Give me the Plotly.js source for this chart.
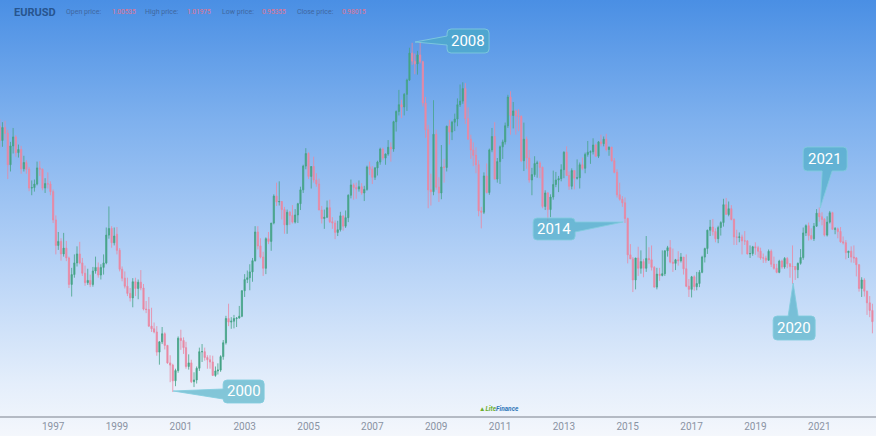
<!DOCTYPE html>
<html>
<head>
<meta charset="utf-8">
<script src="https://cdn.plot.ly/plotly-3.0.1.min.js"></script>
<style>
  html, body { margin:0; padding:0; }
  body { width:876px; height:436px; overflow:hidden; }
  #chart { width:876px; height:436px;
    background: linear-gradient(to bottom, #4a8fe4 0%, #7fb1ee 28%, #b2d0f6 58%, #e4eefb 88%, #f4f7fc 100%); }
</style>
</head>
<body>
<div id="chart"></div>
<script>
// Monthly EURUSD candles, May 1995 .. Sep 2022 (pre-1999 synthetic)
const startYear = 1995, startMonth = 5;
const open = [
  1.416,1.384,1.413,1.400,1.330,1.372,1.392,1.357,
  1.364,1.321,1.335,1.320,1.278,1.279,1.287,1.323,1.320,1.278,1.288,1.287,
  1.270,1.207,1.150,1.159,1.131,1.144,1.122,1.063,1.085,1.111,1.131,1.111,
  1.088,1.067,1.072,1.063,1.093,1.101,1.084,1.101,1.111,1.173,1.188,1.156,
  1.175,1.139,1.097,1.077,1.059,1.043,1.033,1.069,1.054,1.068,1.055,1.008,
  1.007,0.970,0.964,0.957,0.912,0.935,0.953,0.927,0.888,0.883,0.848,0.871,
  0.943,0.938,0.922,0.880,0.888,0.846,0.850,0.876,0.913,0.913,0.900,0.895,
  0.890,0.860,0.870,0.872,0.902,0.933,0.987,0.979,0.981,0.987,0.988,0.992,
  1.049,1.074,1.078,1.091,1.116,1.180,1.149,1.124,1.099,1.165,1.159,1.200,
  1.260,1.247,1.248,1.230,1.196,1.224,1.217,1.202,1.218,1.243,1.274,1.327,
  1.355,1.304,1.326,1.296,1.287,1.229,1.210,1.213,1.234,1.203,1.200,1.179,
  1.185,1.216,1.193,1.212,1.262,1.285,1.279,1.276,1.281,1.267,1.275,1.325,
  1.320,1.302,1.323,1.336,1.365,1.345,1.354,1.369,1.365,1.426,1.449,1.464,
  1.459,1.487,1.519,1.579,1.561,1.555,1.575,1.560,1.468,1.408,1.274,1.270,
  1.398,1.280,1.267,1.325,1.324,1.416,1.403,1.425,1.432,1.464,1.472,1.500,
  1.433,1.387,1.363,1.351,1.330,1.227,1.224,1.305,1.268,1.363,1.393,1.298,
  1.337,1.370,1.381,1.417,1.481,1.440,1.450,1.439,1.438,1.339,1.387,1.345,
  1.296,1.308,1.333,1.334,1.324,1.237,1.267,1.230,1.258,1.286,1.296,1.299,
  1.319,1.358,1.306,1.282,1.317,1.300,1.301,1.330,1.322,1.353,1.358,1.359,
  1.374,1.349,1.381,1.377,1.387,1.364,1.369,1.339,1.313,1.263,1.253,1.245,
  1.210,1.129,1.120,1.073,1.122,1.099,1.114,1.099,1.121,1.118,1.101,1.057,
  1.086,1.083,1.087,1.138,1.145,1.113,1.110,1.118,1.116,1.124,1.098,1.059,
  1.052,1.080,1.058,1.065,1.090,1.124,1.143,1.184,1.191,1.181,1.165,1.190,
  1.201,1.241,1.219,1.232,1.208,1.169,1.168,1.169,1.160,1.160,1.131,1.132,
  1.147,1.145,1.137,1.122,1.122,1.117,1.137,1.108,1.099,1.090,1.115,1.102,
  1.121,1.109,1.103,1.103,1.096,1.110,1.123,1.178,1.194,1.172,1.165,1.193,
  1.222,1.214,1.208,1.173,1.202,1.223,1.186,1.187,1.181,1.158,1.156,1.134,
  1.137,1.124,1.122,1.107,1.054,1.073,1.048,1.022,1.005
];
const high = [
  1.432,1.425,1.428,1.408,1.381,1.412,1.396,1.375,
  1.372,1.350,1.340,1.325,1.295,1.297,1.337,1.338,1.322,1.300,1.313,1.293,
  1.275,1.217,1.180,1.166,1.178,1.160,1.125,1.100,1.130,1.148,1.158,1.122,
  1.105,1.098,1.085,1.102,1.125,1.112,1.108,1.130,1.190,1.237,1.193,1.190,
  1.191,1.144,1.103,1.092,1.078,1.055,1.077,1.078,1.074,1.095,1.064,1.026,
  1.035,1.011,0.978,0.970,0.936,0.968,0.956,0.928,0.905,0.886,0.875,0.947,
  0.962,0.945,0.935,0.907,0.895,0.867,0.880,0.922,0.930,0.922,0.905,0.905,
  0.904,0.880,0.887,0.905,0.939,0.993,1.020,0.990,0.995,0.990,1.015,1.050,
  1.086,1.094,1.108,1.122,1.193,1.193,1.166,1.136,1.168,1.180,1.200,1.264,
  1.290,1.293,1.249,1.236,1.230,1.227,1.240,1.231,1.245,1.281,1.330,1.367,
  1.358,1.327,1.348,1.311,1.299,1.238,1.230,1.250,1.252,1.213,1.206,1.205,
  1.225,1.216,1.228,1.264,1.297,1.289,1.290,1.295,1.289,1.283,1.328,1.337,
  1.327,1.325,1.339,1.368,1.368,1.355,1.385,1.380,1.428,1.451,1.497,1.475,
  1.490,1.522,1.591,1.602,1.578,1.584,1.604,1.562,1.481,1.419,1.310,1.474,
  1.408,1.302,1.374,1.343,1.417,1.430,1.428,1.444,1.478,1.509,1.514,1.512,
  1.458,1.397,1.380,1.369,1.340,1.236,1.313,1.333,1.366,1.412,1.425,1.345,
  1.373,1.386,1.424,1.486,1.494,1.470,1.453,1.454,1.440,1.424,1.393,1.363,
  1.323,1.349,1.339,1.338,1.326,1.273,1.269,1.264,1.317,1.314,1.305,1.331,
  1.360,1.371,1.315,1.322,1.318,1.342,1.335,1.346,1.357,1.383,1.362,1.389,
  1.377,1.383,1.397,1.393,1.399,1.371,1.370,1.345,1.320,1.290,1.260,1.257,
  1.212,1.153,1.124,1.122,1.147,1.139,1.120,1.171,1.146,1.150,1.104,1.100,
  1.100,1.139,1.139,1.149,1.162,1.143,1.120,1.137,1.133,1.124,1.130,1.075,
  1.082,1.083,1.091,1.095,1.127,1.145,1.185,1.207,1.209,1.188,1.194,1.204,
  1.254,1.256,1.248,1.240,1.210,1.185,1.179,1.174,1.182,1.162,1.150,1.149,
  1.157,1.149,1.145,1.132,1.127,1.141,1.141,1.125,1.109,1.118,1.118,1.124,
  1.124,1.110,1.150,1.104,1.112,1.142,1.190,1.197,1.201,1.188,1.200,1.231,
  1.235,1.224,1.211,1.215,1.227,1.225,1.191,1.190,1.191,1.170,1.162,1.138,
  1.148,1.150,1.124,1.108,1.079,1.077,1.049,1.037,1.020
];
const low = [
  1.368,1.370,1.386,1.298,1.315,1.355,1.348,1.346,
  1.310,1.315,1.310,1.271,1.262,1.270,1.284,1.305,1.273,1.267,1.277,1.262,
  1.200,1.130,1.140,1.116,1.125,1.115,1.055,1.036,1.078,1.103,1.108,1.082,
  1.060,1.062,1.057,1.058,1.087,1.078,1.074,1.085,1.108,1.165,1.145,1.150,
  1.130,1.092,1.070,1.054,1.037,1.025,1.012,1.037,1.030,1.050,1.005,0.999,
  0.968,0.957,0.954,0.904,0.884,0.930,0.918,0.886,0.845,0.823,0.836,0.866,
  0.917,0.908,0.875,0.873,0.843,0.834,0.842,0.870,0.890,0.893,0.875,0.875,
  0.859,0.857,0.862,0.868,0.895,0.929,0.970,0.964,0.965,0.968,0.987,0.990,
  1.035,1.066,1.050,1.069,1.114,1.141,1.121,1.082,1.086,1.153,1.138,1.197,
  1.238,1.239,1.208,1.176,1.176,1.196,1.199,1.199,1.200,1.229,1.267,1.320,
  1.298,1.277,1.290,1.281,1.229,1.199,1.187,1.211,1.200,1.187,1.164,1.171,
  1.181,1.183,1.189,1.202,1.255,1.252,1.254,1.270,1.263,1.249,1.272,1.307,
  1.287,1.296,1.306,1.330,1.340,1.330,1.350,1.337,1.359,1.404,1.440,1.434,
  1.440,1.450,1.517,1.553,1.532,1.531,1.556,1.460,1.390,1.233,1.239,1.262,
  1.274,1.247,1.253,1.290,1.315,1.375,1.385,1.405,1.416,1.459,1.466,1.421,
  1.386,1.343,1.327,1.311,1.215,1.188,1.220,1.266,1.263,1.358,1.297,1.290,
  1.287,1.343,1.375,1.412,1.397,1.411,1.397,1.405,1.336,1.316,1.321,1.290,
  1.262,1.303,1.301,1.300,1.233,1.229,1.204,1.213,1.252,1.280,1.269,1.293,
  1.300,1.305,1.274,1.275,1.275,1.297,1.277,1.318,1.311,1.348,1.332,1.353,
  1.348,1.345,1.371,1.371,1.360,1.350,1.337,1.311,1.257,1.250,1.236,1.200,
  1.110,1.120,1.046,1.052,1.082,1.087,1.079,1.091,1.109,1.094,1.056,1.052,
  1.071,1.081,1.082,1.125,1.110,1.091,1.095,1.105,1.112,1.085,1.057,1.035,
  1.034,1.049,1.050,1.057,1.088,1.112,1.131,1.171,1.172,1.157,1.155,1.172,
  1.192,1.219,1.215,1.206,1.151,1.151,1.157,1.130,1.151,1.130,1.122,1.127,
  1.129,1.123,1.118,1.111,1.111,1.116,1.102,1.096,1.088,1.088,1.098,1.098,
  1.099,1.078,1.064,1.073,1.077,1.107,1.118,1.171,1.161,1.162,1.160,1.192,
  1.203,1.195,1.170,1.170,1.199,1.185,1.175,1.166,1.156,1.152,1.119,1.122,
  1.112,1.111,1.081,1.047,1.035,1.036,0.995,0.990,0.954
];
const close = [
  1.384,1.413,1.400,1.330,1.372,1.392,1.357,1.364,
  1.321,1.335,1.320,1.278,1.279,1.287,1.323,1.320,1.278,1.288,1.287,1.270,
  1.207,1.150,1.159,1.131,1.144,1.122,1.063,1.085,1.111,1.131,1.111,1.088,
  1.067,1.072,1.063,1.093,1.101,1.084,1.101,1.111,1.173,1.188,1.156,1.171,
  1.139,1.097,1.077,1.059,1.043,1.033,1.069,1.054,1.068,1.055,1.008,1.007,
  0.970,0.964,0.957,0.912,0.935,0.953,0.927,0.888,0.883,0.848,0.871,0.943,
  0.938,0.922,0.880,0.888,0.846,0.850,0.876,0.913,0.913,0.900,0.895,0.890,
  0.860,0.870,0.872,0.902,0.933,0.987,0.979,0.981,0.987,0.988,0.992,1.049,
  1.074,1.078,1.091,1.116,1.180,1.149,1.124,1.099,1.165,1.159,1.200,1.260,
  1.247,1.248,1.230,1.196,1.224,1.217,1.202,1.218,1.243,1.274,1.327,1.355,
  1.304,1.326,1.296,1.287,1.229,1.210,1.213,1.234,1.203,1.200,1.179,1.185,
  1.216,1.193,1.212,1.262,1.285,1.279,1.276,1.281,1.267,1.275,1.325,1.320,
  1.302,1.323,1.336,1.365,1.345,1.354,1.369,1.365,1.426,1.449,1.464,1.459,
  1.487,1.519,1.579,1.561,1.555,1.575,1.560,1.468,1.408,1.274,1.270,1.398,
  1.280,1.267,1.325,1.324,1.416,1.403,1.425,1.432,1.464,1.472,1.500,1.433,
  1.387,1.363,1.351,1.330,1.227,1.224,1.305,1.268,1.363,1.393,1.298,1.337,
  1.370,1.381,1.417,1.481,1.440,1.450,1.439,1.438,1.339,1.387,1.345,1.296,
  1.308,1.333,1.334,1.324,1.237,1.267,1.230,1.258,1.286,1.296,1.299,1.319,
  1.358,1.306,1.282,1.317,1.300,1.301,1.330,1.322,1.353,1.358,1.359,1.374,
  1.349,1.381,1.377,1.387,1.364,1.369,1.339,1.313,1.263,1.253,1.245,1.210,
  1.129,1.120,1.073,1.122,1.099,1.114,1.099,1.121,1.118,1.101,1.057,1.086,
  1.083,1.087,1.138,1.145,1.113,1.110,1.118,1.116,1.124,1.098,1.059,1.052,
  1.080,1.058,1.065,1.090,1.124,1.143,1.184,1.191,1.181,1.165,1.190,1.201,
  1.241,1.219,1.232,1.208,1.169,1.168,1.169,1.160,1.160,1.131,1.132,1.147,
  1.145,1.137,1.122,1.122,1.117,1.137,1.108,1.099,1.090,1.115,1.102,1.121,
  1.109,1.103,1.103,1.096,1.110,1.123,1.178,1.194,1.172,1.165,1.193,1.222,
  1.214,1.208,1.173,1.202,1.223,1.186,1.187,1.181,1.158,1.156,1.134,1.137,
  1.124,1.122,1.107,1.054,1.073,1.048,1.022,1.005,0.980
];
const headerLabels = ['Open price:', 'High price:', 'Low price:', 'Close price:'];
const headerValues = ['1.00535', '1.01975', '0.95355', '0.98015'];
const calloutLabels = ['2008', '2000', '2014', '2021', '2020'];
const calloutDates  = ['2008-05-04', '2000-10-05', '2014-11-10', '2021-01-11', '2020-03-08'];
const calloutValues = [1.6038, 0.8253, 1.2023, 1.2335, 1.0662];

// month dates for the candles
const months = open.map((_, i) => {
  const m = startMonth - 1 + i;
  const y = startYear + Math.floor(m / 12);
  return y + '-' + String(m % 12 + 1).padStart(2, '0') + '-01';
});

const W = 876, PH = 416;

// callout geometry (screen px relative to pointer tip)
const calloutGeom = [
  {box:[32,74,-13,11],  side:'left',   base:[-6,3]},
  {box:[50,91,-11,12],  side:'left',   base:[-2,8]},
  {box:[-90,-48,-4,18], side:'right',  base:[0,10]},
  {box:[-17,27,-61,-37],side:'bottom', base:[2,12]},
  {box:[-20,22,33,57],  side:'top',    base:[-5,5]}
];

function P(x, y) { return x + ',' + (-y); }
function calloutPath(g) {
  const [x0,x1,y0,y1] = g.box, r = 4, [b0,b1] = g.base, t = P(0,0);
  let s = 'M' + P(x0+r,y0);
  if (g.side === 'top') s += 'L' + P(b0,y0) + 'L' + t + 'L' + P(b1,y0);
  s += 'L' + P(x1-r,y0) + 'Q' + P(x1,y0) + ' ' + P(x1,y0+r);
  if (g.side === 'right') s += 'L' + P(x1,b0) + 'L' + t + 'L' + P(x1,b1);
  s += 'L' + P(x1,y1-r) + 'Q' + P(x1,y1) + ' ' + P(x1-r,y1);
  if (g.side === 'bottom') s += 'L' + P(b1,y1) + 'L' + t + 'L' + P(b0,y1);
  s += 'L' + P(x0+r,y1) + 'Q' + P(x0,y1) + ' ' + P(x0,y1-r);
  if (g.side === 'left') s += 'L' + P(x0,b1) + 'L' + t + 'L' + P(x0,b0);
  s += 'L' + P(x0,y0+r) + 'Q' + P(x0,y0) + ' ' + P(x0+r,y0) + 'Z';
  return s;
}

const shapes = calloutGeom.map((g, i) => ({
  type:'path', xref:'x', yref:'y', xsizemode:'pixel', ysizemode:'pixel',
  xanchor: calloutDates[i], yanchor: calloutValues[i],
  path: calloutPath(g), layer:'above',
  fillcolor:'rgba(74,174,196,0.64)',
  line:{color:'rgba(130,205,222,0.85)', width:1}
}));

const annotations = calloutGeom.map((g, i) => ({
  xref:'x', yref:'y', x: calloutDates[i], y: calloutValues[i],
  xshift: (g.box[0]+g.box[1])/2, yshift: -(g.box[2]+g.box[3])/2,
  text: calloutLabels[i], showarrow:false,
  xanchor:'center', yanchor:'middle',
  font:{family:'Roboto, Arial, sans-serif', size:15, color:'#ffffff'}
}));

// header
const hy = 1 - 12.5 / PH;
annotations.push({xref:'paper', yref:'paper', x:12/W, y:hy, xanchor:'left', yanchor:'middle',
  showarrow:false, text:'<b>EURUSD</b>', font:{family:'Roboto, sans-serif', size:11, color:'#27558f'}});
const labelX = [64, 143, 220, 295], valueX = [110, 185, 260, 340];
headerLabels.forEach((t, i) => {
  annotations.push({xref:'paper', yref:'paper', x:labelX[i]/W, y:hy, xanchor:'left', yanchor:'middle',
    showarrow:false, text:t, font:{family:'Roboto, sans-serif', size:7, color:'#3f679f'}});
  annotations.push({xref:'paper', yref:'paper', x:valueX[i]/W, y:hy, xanchor:'left', yanchor:'middle',
    showarrow:false, text:headerValues[i], font:{family:'Roboto, sans-serif', size:6.5, color:'#e2738f'}});
});
// logo
annotations.push({xref:'paper', yref:'paper', x:499/W, y:1 - 408.5/PH, xanchor:'center', yanchor:'middle',
  showarrow:false,
  text:'<span style="color:#6cae2e">▲</span><b><i><span style="color:#6cae2e">Lite</span><span style="color:#2f77b8">Finance</span></i></b>',
  font:{family:'Roboto, sans-serif', size:6.5}});

const trace = {
  type:'candlestick', x: months, open: open, high: high, low: low, close: close,
  increasing:{line:{color:'#45a386', width:0.8}, fillcolor:'#45a386'},
  decreasing:{line:{color:'#ea88a2', width:0.8}, fillcolor:'#ea88a2'},
  whiskerwidth:0, hoverinfo:'none', showlegend:false
};

const layout = {
  width:W, height:436,
  margin:{l:0, r:0, t:0, b:20, pad:0},
  paper_bgcolor:'rgba(0,0,0,0)', plot_bgcolor:'rgba(0,0,0,0)',
  showlegend:false,
  xaxis:{
    type:'date', range:['1995-05-04','2022-10-12'],
    rangeslider:{visible:false},
    showgrid:false, zeroline:false,
    showline:true, linecolor:'#b4bac4', linewidth:1.5,
    ticks:'', tick0:'1997-01-01', dtick:'M24', tickformat:'%Y',
    tickfont:{family:'Roboto, sans-serif', size:10, color:'#8a93a3'},
    fixedrange:true
  },
  yaxis:{range:[0.7695, 1.6975], visible:false, showgrid:false, zeroline:false, fixedrange:true},
  shapes: shapes,
  annotations: annotations
};

Plotly.newPlot('chart', [trace], layout, {staticPlot:true, displayModeBar:false});
</script>
</body>
</html>
